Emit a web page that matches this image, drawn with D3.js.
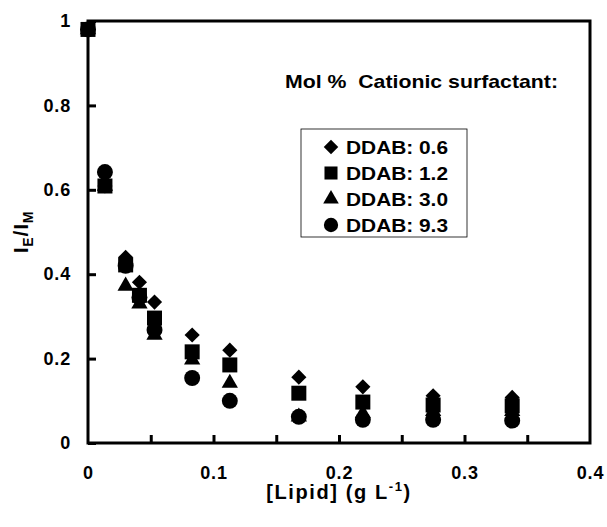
<!DOCTYPE html>
<html>
<head>
    <script src="https://d3js.org/d3.v7.min.js"></script>
    <style>
        body { margin: 0; background: #fff; }
        text { font-family: "Liberation Sans", Arial, sans-serif; font-weight: bold; fill: #000; }
    </style>
</head>
<body>
    <script>
        // Lipid concentration (g/L)
        const lipid = [0, 0.0135, 0.03, 0.041, 0.053, 0.083, 0.113, 0.168, 0.219, 0.275, 0.338];

        // IE/IM per DDAB mol %
        const ddab06 = [0.98, 0.609, 0.44, 0.381, 0.334, 0.256, 0.22, 0.156, 0.133, 0.112, 0.108];
        const ddab12 = [0.98, 0.609, 0.422, 0.35, 0.296, 0.216, 0.185, 0.118, 0.097, 0.09, 0.088];
        const ddab30 = [0.98, 0.609, 0.372, 0.33, 0.256, 0.197, 0.142, 0.062, 0.07, 0.075, 0.075];
        const ddab93 = [0.98, 0.642, 0.42, 0.345, 0.268, 0.154, 0.10, 0.062, 0.055, 0.055, 0.053];

        const seriesNames = ['DDAB: 0.6', 'DDAB: 1.2', 'DDAB: 3.0', 'DDAB: 9.3'];
        const xTicks = [0, 0.1, 0.2, 0.3, 0.4];
        const xMinor = [0.05, 0.1, 0.15, 0.2, 0.25, 0.3, 0.35];
        const yTicks = [0, 0.2, 0.4, 0.6, 0.8, 1];

        const margin = { top: 21, right: 17, bottom: 84, left: 88 };
        const width = 607 - margin.left - margin.right;
        const height = 527 - margin.top - margin.bottom;

        const svg = d3.select('body')
            .append('svg')
            .attr('width', 607)
            .attr('height', 527)
            .append('g')
            .attr('transform', `translate(${margin.left},${margin.top})`);

        const xScale = d3.scaleLinear().domain([0, 0.4]).range([0, width]);
        const yScale = d3.scaleLinear().domain([0, 1]).range([height, 0]);

        // frame
        svg.append('rect')
            .attr('x', 0).attr('y', 0)
            .attr('width', width).attr('height', height)
            .attr('fill', 'none')
            .attr('stroke', '#000')
            .attr('stroke-width', 3);

        // x axis: inward ticks every 0.05, labels at 0.1
        const xAxis = svg.append('g')
            .attr('transform', `translate(0,${height})`)
            .call(d3.axisTop(xScale).tickValues(xMinor).tickSize(8).tickFormat(''));
        xAxis.select('.domain').remove();
        xAxis.selectAll('line').attr('stroke', '#000').attr('stroke-width', 3);

        const xLabels = svg.append('g')
            .attr('transform', `translate(0,${height})`)
            .call(d3.axisBottom(xScale).tickValues(xTicks).tickSize(0).tickPadding(23)
                .tickFormat(d => d === 0 ? '0' : d3.format('.1f')(d)));
        xLabels.select('.domain').remove();
        xLabels.selectAll('text').style('font-size', '18px').style('letter-spacing', '0.8px');

        // y axis
        const yAxis = svg.append('g')
            .call(d3.axisRight(yScale).tickValues(yTicks).tickSize(8)
                .tickFormat(''));
        yAxis.select('.domain').remove();
        yAxis.selectAll('line').attr('stroke', '#000').attr('stroke-width', 3);

        const yLabels = svg.append('g')
            .call(d3.axisLeft(yScale).tickValues(yTicks).tickSize(0).tickPadding(17)
                .tickFormat(d => (d === 0 || d === 1) ? String(d) : d3.format('.1f')(d)));
        yLabels.select('.domain').remove();
        yLabels.selectAll('text').style('font-size', '18px').style('letter-spacing', '0.8px');

        // markers (drawn back to front)
        const shapes = [
            { data: ddab93, sym: d3.symbolCircle, size: 200, rot: 0 },
            { data: ddab30, sym: d3.symbolTriangle, size: 115, rot: 0 },
            { data: ddab06, sym: d3.symbolSquare, size: 115, rot: 45 },
            { data: ddab12, sym: d3.symbolSquare, size: 225, rot: 0 }
        ];

        shapes.forEach(s => {
            svg.append('g')
                .selectAll('path')
                .data(s.data)
                .join('path')
                .attr('d', d3.symbol().type(s.sym).size(s.size))
                .attr('transform', (d, i) => `translate(${xScale(lipid[i])},${yScale(d)}) rotate(${s.rot})`)
                .attr('fill', '#000');
        });

        // legend heading
        svg.append('text')
            .attr('x', 197)
            .attr('y', 67)
            .attr('textLength', 273)
            .attr('lengthAdjust', 'spacingAndGlyphs')
            .style('font-size', '19px')
            .text('Mol %\u00a0\u00a0Cationic surfactant:');

        // legend box
        const legend = svg.append('g').attr('transform', 'translate(213,108)');
        legend.append('rect')
            .attr('width', 166).attr('height', 108)
            .attr('fill', '#fff')
            .attr('stroke', '#000')
            .attr('stroke-width', 0.8);

        const legendSyms = [
            { sym: d3.symbolSquare, size: 105, rot: 45 },
            { sym: d3.symbolSquare, size: 170, rot: 0 },
            { sym: d3.symbolTriangle, size: 105, rot: 0 },
            { sym: d3.symbolCircle, size: 160, rot: 0 }
        ];
        seriesNames.forEach((name, i) => {
            const cy = 18 + i * 26;
            legend.append('path')
                .attr('d', d3.symbol().type(legendSyms[i].sym).size(legendSyms[i].size))
                .attr('transform', `translate(30,${cy}) rotate(${legendSyms[i].rot})`)
                .attr('fill', '#000');
            legend.append('text')
                .attr('x', 45)
                .attr('y', cy + 7)
                .attr('textLength', 102)
                .attr('lengthAdjust', 'spacingAndGlyphs')
                .style('font-size', '19px')
                .text(name);
        });

        // axis titles
        const xt = svg.append('text')
            .attr('x', width / 2)
            .attr('y', height + 56)
            .attr('text-anchor', 'middle')
            .style('font-size', '20px')
            .style('letter-spacing', '1.6px');
        xt.append('tspan').text('[Lipid] (g L');
        xt.append('tspan').attr('dy', -8).style('font-size', '13px').text('-1');
        xt.append('tspan').attr('dy', 8).text(')');

        const yt = svg.append('text')
            .attr('transform', `translate(-60,${height / 2}) rotate(-90)`)
            .attr('text-anchor', 'middle')
            .style('font-size', '21px')
            .style('letter-spacing', '0.8px');
        yt.append('tspan').text('I');
        yt.append('tspan').attr('dy', 5).style('font-size', '14px').text('E');
        yt.append('tspan').attr('dy', -5).text('/I');
        yt.append('tspan').attr('dy', 5).style('font-size', '14px').text('M');
    </script>
</body>
</html>
